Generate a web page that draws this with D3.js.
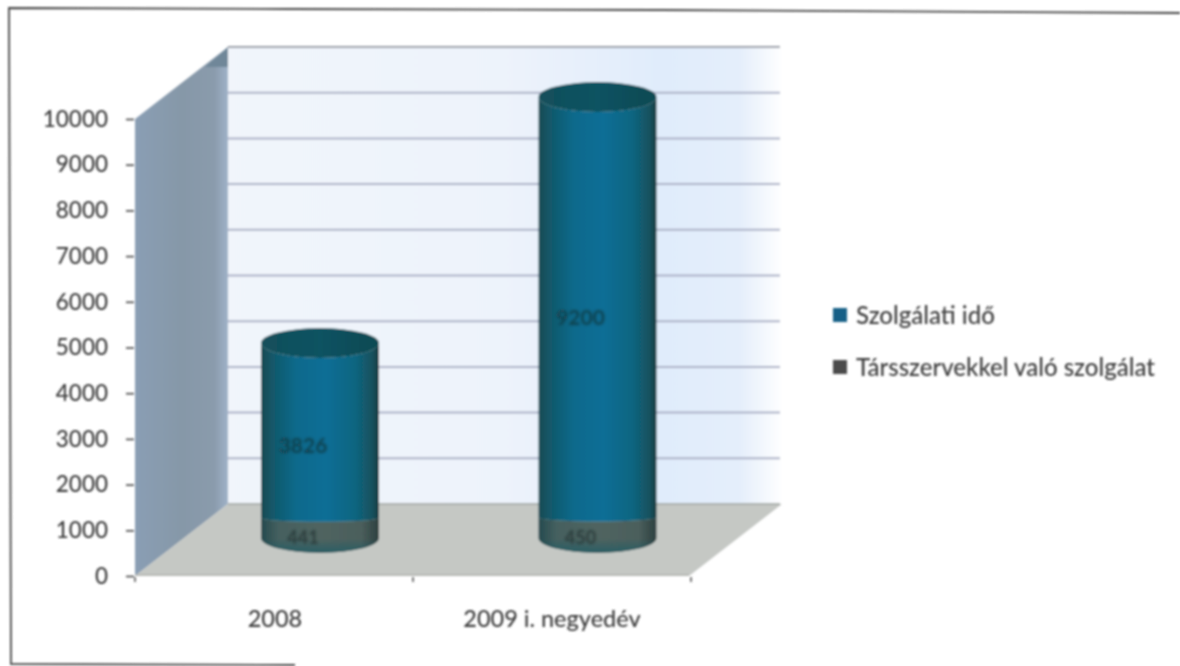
<!DOCTYPE html>
<html><head><meta charset="utf-8">
<script src="https://cdn.jsdelivr.net/npm/d3@7"></script>
<style>html,body{margin:0;background:#fff}svg{display:block}text{font-family:Lato,sans-serif;fill:#3c3c3c}</style>
</head><body><div id="c"></div>
<script>
const categories = ["2008", "2009 i. negyedév"];
const seriesNames = ["Szolgálati idő", "Társszervekkel való szolgálat"];
const szolgalatiIdo = [3826, 9200];
const tarsszervekkel = [441, 450];
const yTicks = [0,1000,2000,3000,4000,5000,6000,7000,8000,9000,10000];

const W=1180,H=666;
const svg=d3.select("#c").append("svg").attr("width",W).attr("height",H);
const defs=svg.append("defs");
function blur(id,s){
  defs.append("filter").attr("id",id).attr("x","-5%").attr("y","-5%").attr("width","110%").attr("height","110%")
    .append("feGaussianBlur").attr("stdDeviation",s);
}
blur("soft",0.8); blur("softer",1.1);
function grad(id,stops,x2=1,y2=0){
  const g=defs.append("linearGradient").attr("id",id).attr("x1",0).attr("y1",0).attr("x2",x2).attr("y2",y2);
  stops.forEach(([o,c])=>g.append("stop").attr("offset",o).attr("stop-color",c));
}
grad("wall",[[0,"#f1f5fb"],[.5,"#edf3fb"],[.78,"#e0ecfb"],[.92,"#e4eefb"],[1,"#ffffff"]]);
grad("side",[[0,"#8a9eb4"],[.5,"#8698a8"],[.85,"#8a9bac"],[1,"#9fb2c8"]]);
grad("cyl",[[0,"#174a52"],[.1,"#12586a"],[.3,"#0b6a8c"],[.55,"#0a6e96"],[.8,"#0f6580"],[.95,"#15505c"],[1,"#12383e"]]);
grad("band",[[0,"#244a4e"],[.15,"#45605f"],[.5,"#506460"],[.85,"#4b5f5c"],[1,"#2c3f3f"]]);
grad("bandV",[[0,"#ffffff00"],[.6,"#0f5a6a00"],[1,"#0f5a6a99"]],0,1);
grad("cap",[[0,"#13505a"],[.5,"#0e5262"],[1,"#114a52"]]);

const g=svg.append("g").attr("filter","url(#soft)");
const y=d3.scaleLinear().domain([0,10000]).range([576,119]);
const dx=93,dy=-72;
const xFront=d3.scaleBand().domain(categories).range([135,691]);
const left=135,right=689;
const backY=v=>y(v)+dy;

// left side wall
g.append("path").attr("d",`M${left},${y(10000)}L${left+dx},${backY(10000)}L${left+dx},${backY(0)}L${left},${y(0)}Z`).attr("fill","url(#side)");
g.append("path").attr("d",`M${left+dx-23},${backY(10000)+20}L${left+dx},${backY(10000)}L${left+dx},${backY(10000)+20}Z`).attr("fill","#6f8799");
// back wall
g.append("rect").attr("x",left+dx).attr("y",backY(10000)).attr("width",right+dx-left-dx+1).attr("height",backY(0)-backY(10000)).attr("fill","url(#wall)");
// grid lines
g.selectAll(".gl").data(yTicks.slice(1)).join("line").attr("class","gl")
  .attr("x1",left+dx).attr("x2",right+dx-2).attr("y1",d=>backY(d)).attr("y2",d=>backY(d))
  .attr("stroke",d=>d===10000?"#9a9ea8":"#aab0c6").attr("stroke-width",2);
// floor
g.append("path").attr("d",`M${left},${y(0)}L${left+dx},${backY(0)}L${right+dx},${backY(0)}L${right},${y(0)}Z`).attr("fill","#c5c8c4");
g.append("line").attr("x1",left+dx).attr("x2",right+dx-2).attr("y1",backY(0)).attr("y2",backY(0)).attr("stroke","#aab0ac").attr("stroke-width",2);
g.append("line").attr("x1",left).attr("x2",right).attr("y1",y(0)-1).attr("y2",y(0)-1).attr("stroke","#b2b5b2").attr("stroke-width",1.5);

// y axis
const axis=g.append("g").attr("transform",`translate(${left-1},0)`)
  .call(d3.axisLeft(y).tickValues(yTicks).tickFormat(d3.format("d")).tickSize(8).tickPadding(18));
axis.select(".domain").remove();
axis.selectAll(".tick line").attr("stroke","#444").attr("stroke-width",1.6);
axis.selectAll("text").style("font-size","22.5px").style("font-weight","500").attr("fill","#3c3c3c");

// x axis ticks
g.selectAll(".xt").data(xFront.domain().map(d=>xFront(d)).concat([xFront.range()[1]])).join("line").attr("class","xt")
  .attr("x1",d=>d).attr("x2",d=>d).attr("y1",y(0)+1).attr("y2",y(0)+6).attr("stroke","#555").attr("stroke-width",1.6);
const labelX=[275,552];
g.selectAll(".xl").data(categories).join("text").attr("class","xl")
  .attr("x",(d,i)=>labelX[i]).attr("y",627).attr("text-anchor","middle").style("font-size","23.5px").style("font-weight","500").text(d=>d);

// cylinders
const cx=[320,597.5], rx=59, ry=15, base=538;
const barY=v=>base-(y(0)-y(v));
const bars=categories.map((c,i)=>({c,cx:cx[i],a:szolgalatiIdo[i],b:tarsszervekkel[i]}));
const arcBody=(cx,t,b,r1,r2)=>`M${cx-rx},${t}A${rx},${r1} 0 0 0 ${cx+rx},${t}L${cx+rx},${b}A${rx},${r2} 0 0 1 ${cx-rx},${b}Z`;
bars.forEach(d=>{
  const yB=barY(d.b), yT=barY(d.a+d.b);
  g.append("path").attr("d",arcBody(d.cx,yB,base,4,ry)).attr("fill","url(#band)");
  g.append("path").attr("d",arcBody(d.cx,yB,base,4,ry)).attr("fill","url(#bandV)");
  g.append("path").attr("d",arcBody(d.cx,yT,yB,ry,4)).attr("fill","url(#cyl)");
  g.append("ellipse").attr("cx",d.cx).attr("cy",yT).attr("rx",rx).attr("ry",ry).attr("fill","url(#cap)");
  g.append("text").attr("filter","url(#softer)").attr("x",d.cx-17).attr("y",(yT+yB)/2+ (d.a>5000?18:23)).attr("text-anchor","middle")
    .style("font-size","21px").style("fill","#17404c").style("font-weight","700").text(d.a);
  g.append("text").attr("filter","url(#softer)").attr("x",d.cx-17).attr("y",(yB+base)/2+16).attr("text-anchor","middle")
    .style("font-size","18px").style("fill","#2a3c3c").style("font-weight","700").text(d.b);
});

// legend
const legendY=[315,367], legendColors=["#155f86","#4c4c4c"];
g.selectAll(".ls").data(seriesNames).join("rect").attr("class","ls")
  .attr("x",833).attr("y",(d,i)=>legendY[i]-7).attr("width",14).attr("height",14).attr("fill",(d,i)=>legendColors[i]);
g.selectAll(".lt").data(seriesNames).join("text").attr("class","lt")
  .attr("x",856).attr("y",(d,i)=>legendY[i]+9).style("font-size","24px").style("font-weight","500").text(d=>d);

// page frame from the scan
const frame=g.append("g").attr("stroke","#444").attr("fill","none");
frame.append("path").attr("d",`M${W},13L660,10L290,9L9,8L11,664L295,665`).attr("stroke-width",1.8);
</script></body></html>
